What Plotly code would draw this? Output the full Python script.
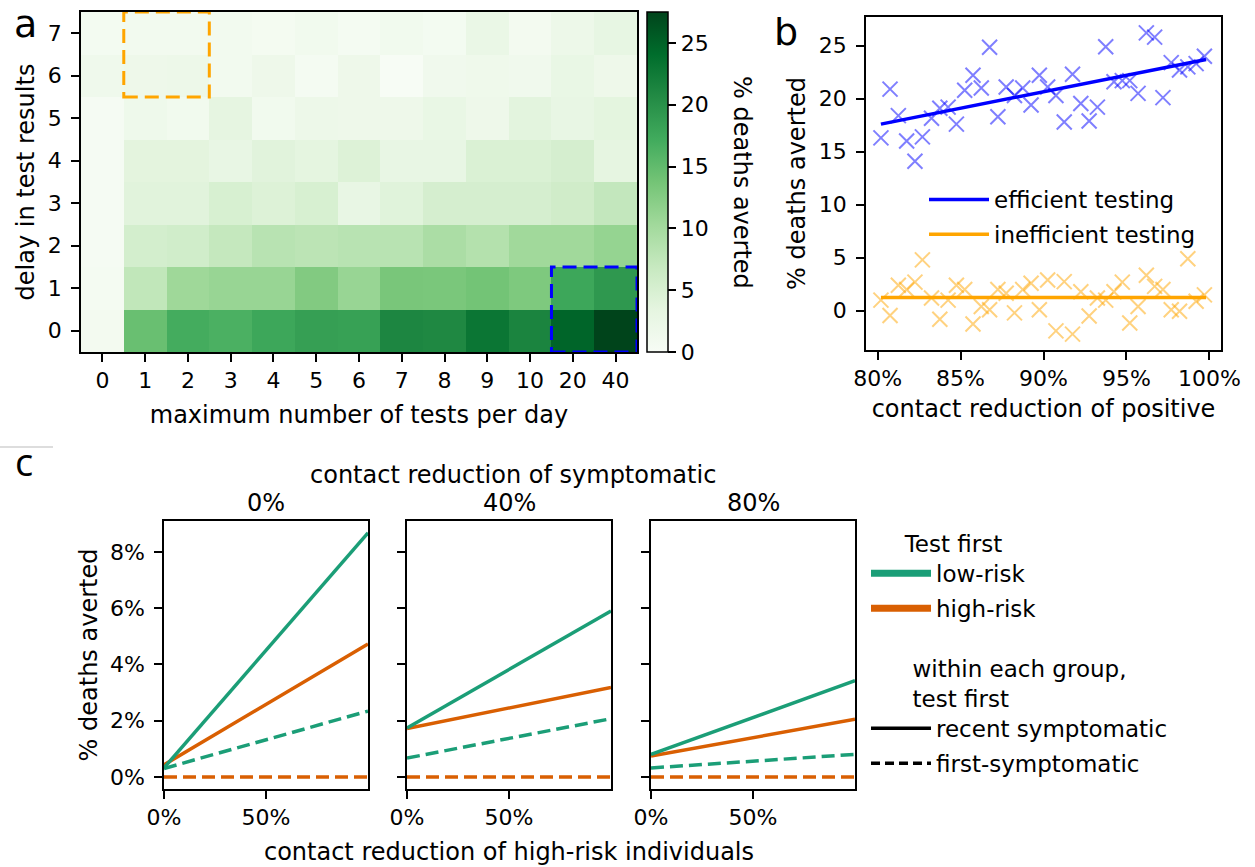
import plotly.graph_objects as go

W, H = 1255, 867
OFF = 0  # body margin removed in the page (see post_script)
FONT = "DejaVu Sans"

# ---------------- panel a data ----------------
tests_labels = ["0", "1", "2", "3", "4", "5", "6", "7", "8", "9", "10", "20", "40"]
delay_labels = ["0", "1", "2", "3", "4", "5", "6", "7"]
deaths_averted_grid = [
    [0.8, 14.5, 17.0, 16.5, 17.6, 18.5, 18.3, 21.2, 21.0, 23.0, 21.4, 24.7, 27.5],
    [0.5, 7.4, 10.5, 11.0, 11.0, 12.7, 11.0, 13.4, 13.3, 13.8, 13.0, 17.6, 19.2],
    [0.4, 5.5, 5.8, 7.1, 8.2, 7.9, 8.2, 8.2, 9.4, 8.6, 10.3, 10.3, 11.2],
    [0.4, 3.9, 3.9, 5.0, 4.4, 5.0, 2.8, 4.0, 5.3, 5.3, 5.3, 5.9, 7.2],
    [0.3, 3.6, 3.6, 2.8, 3.9, 3.4, 4.4, 2.8, 2.8, 4.7, 4.7, 5.3, 3.3],
    [0.3, 1.7, 1.2, 3.2, 1.2, 2.0, 1.8, 1.8, 2.7, 1.8, 3.7, 2.8, 3.5],
    [1.5, 1.8, 2.0, 1.0, 1.8, 0.5, 1.8, 0.0, 1.3, 1.6, 1.3, 2.6, 1.8],
    [0.7, 1.0, 1.0, 1.0, 0.6, 1.2, 0.5, 1.2, 0.7, 2.4, 0.8, 1.9, 3.0],
]
colorbar_ticks = [0, 5, 10, 15, 20, 25]
# highlighted regions (column / row index ranges)
inefficient_box = dict(cols=(1, 2), rows=(6, 7))
efficient_box = dict(cols=(11, 12), rows=(0, 1))

# ---------------- panel b data ----------------
contact_reduction_pos = [80.2, 80.75, 81.25, 81.75, 82.25, 82.7, 83.25, 83.75, 84.25, 84.75,
                         85.25, 85.75, 86.25, 86.75, 87.25, 87.75, 88.25, 88.75, 89.25, 89.75,
                         90.25, 90.75, 91.25, 91.75, 92.25, 92.75, 93.25, 93.75, 94.25, 94.75,
                         95.2, 95.7, 96.2, 96.7, 97.2, 97.7, 98.2, 98.7, 99.2, 99.7]
efficient_vals = [16.3, 20.9, 18.4, 16.0, 14.1, 16.4, 18.15, 19.1, 19.2, 17.6,
                  20.8, 22.2, 21.0, 24.85, 18.3, 21.1, 20.3, 21.0, 19.4, 22.2,
                  21.1, 20.3, 17.8, 22.3, 19.55, 17.9, 19.2, 24.9, 21.6, 21.7,
                  21.7, 20.5, 26.2, 25.8, 20.1, 23.4, 22.7, 23.0, 23.3, 24.0]
inefficient_vals = [1.0, -0.45, 2.4, 2.0, 2.7, 4.8, 1.2, -0.8, 1.0, 2.4,
                    2.0, -1.25, 0.4, 0.1, 2.0, 1.65, -0.2, 2.0, 2.6, 0.1,
                    2.9, -1.9, 2.75, -2.2, 1.8, -0.5, 1.2, 1.0, 1.8, 2.7,
                    -1.15, 0.4, 3.35, 2.3, 2.0, 0.1, -0.05, 4.9, 0.9, 1.5]
fit_x = [80.2, 99.8]
efficient_fit = [17.6, 23.7]
inefficient_fit = [1.25, 1.25]
b_xticks = [80, 85, 90, 95, 100]
b_xticklabels = ["80%", "85%", "90%", "95%", "100%"]
b_yticks = [0, 5, 10, 15, 20, 25]

# ---------------- panel c data ----------------
symptomatic_labels = ["0%", "40%", "80%"]
highrisk_x = [0.0, 1.0]
lowrisk_recent = [[0.0032, 0.0868], [0.0174, 0.0590], [0.0080, 0.0342]]
highrisk_recent = [[0.0043, 0.0473], [0.0172, 0.0318], [0.0074, 0.0205]]
lowrisk_first = [[0.0030, 0.0234], [0.0067, 0.0207], [0.0032, 0.0080]]
highrisk_first = [[0.0, 0.0], [0.0, 0.0], [0.0, 0.0]]
c_xticks = [0, 0.5]
c_yticks = [0, 0.02, 0.04, 0.06, 0.08]

GREEN = "#1b9e77"
ORANGE = "#d95f02"

greens = [[0.0, "#f7fcf5"], [0.125, "#e5f5e0"], [0.25, "#c7e9c0"], [0.375, "#a1d99b"],
          [0.5, "#74c476"], [0.625, "#41ab5d"], [0.75, "#238b45"], [0.875, "#006d2c"],
          [1.0, "#00441b"]]

TICK = 22
TITLE = 24


def fx(x):
    return (x - OFF) / W


def fy(y):
    return 1 - (y - OFF) / H


def px_x(a, b):
    return [fx(a), fx(b)]


def px_y(top, bottom):
    return [fy(bottom), fy(top)]


fig = go.Figure()

# ---- panel a heatmap ----
fig.add_trace(go.Heatmap(
    z=deaths_averted_grid,
    x=list(range(len(tests_labels))),
    y=list(range(len(delay_labels))),
    colorscale=greens, zmin=0, zmax=27.5,
    xaxis="x", yaxis="y", showscale=True,
    colorbar=dict(
        x=fx(647), xanchor="left", xpad=0,
        y=fy(352), yanchor="bottom", ypad=0,
        len=340 / H, lenmode="fraction", thickness=21,
        outlinewidth=1.5, outlinecolor="black",
        tickvals=colorbar_ticks, ticks="outside", ticklen=8,
        tickwidth=1.5, tickcolor="black", tickprefix="\u2009\u2009\u2009",
        tickfont=dict(family=FONT, size=TICK, color="black"),
    ),
    hoverinfo="skip",
))

# ---- panel b ----
fig.add_trace(go.Scatter(
    x=contact_reduction_pos, y=efficient_vals, mode="markers",
    marker=dict(symbol="x-thin", size=15, line=dict(width=2, color="rgba(0,0,255,0.5)")),
    xaxis="x2", yaxis="y2", showlegend=False))
fig.add_trace(go.Scatter(
    x=contact_reduction_pos, y=inefficient_vals, mode="markers",
    marker=dict(symbol="x-thin", size=15, line=dict(width=2, color="rgba(255,165,0,0.5)")),
    xaxis="x2", yaxis="y2", showlegend=False))
fig.add_trace(go.Scatter(
    x=fit_x, y=efficient_fit, mode="lines", line=dict(color="blue", width=3.5),
    name="efficient testing", xaxis="x2", yaxis="y2", legend="legend", legendgroup="e"))
fig.add_trace(go.Scatter(
    x=fit_x, y=inefficient_fit, mode="lines", line=dict(color="orange", width=3.5),
    name="inefficient testing", xaxis="x2", yaxis="y2", legend="legend", legendgroup="i"))

# ---- panel c ----
DASH = "13px,6px"
for i in range(3):
    xa = "x%d" % (i + 3)
    ya = "y%d" % (i + 3)
    for vals, col, dash in [(highrisk_first, ORANGE, DASH), (lowrisk_first, GREEN, DASH),
                            (highrisk_recent, ORANGE, "solid"), (lowrisk_recent, GREEN, "solid")]:
        fig.add_trace(go.Scatter(
            x=highrisk_x, y=vals[i], mode="lines",
            line=dict(color=col, width=3.5, dash=dash),
            xaxis=xa, yaxis=ya, showlegend=False))

# legend-only entries for panel c
for name, col, dash, lg in [("low-risk", GREEN, "solid", "legend2"),
                            ("high-risk", ORANGE, "solid", "legend2"),
                            ("recent symptomatic", "black", "solid", "legend3"),
                            ("first-symptomatic", "black", "9px,5px", "legend3")]:
    fig.add_trace(go.Scatter(
        x=[None], y=[None], mode="lines", name=name,
        line=dict(color=col, width=7 if lg == "legend2" else 3.5, dash=dash),
        xaxis="x3", yaxis="y3", legend=lg, legendgroup=name))


def ax(**kw):
    d = dict(showline=True, mirror=True, linecolor="black", linewidth=1.5,
             ticks="outside", ticklen=8, tickwidth=1.5, tickcolor="black",
             showgrid=False, zeroline=False, automargin=False,
             tickfont=dict(family=FONT, size=TICK, color="black"))
    d.update(kw)
    return d


tfont = dict(family=FONT, size=TITLE, color="black")
lfont = dict(family=FONT, size=23, color="black")

layout = dict(
    width=W, height=H, margin=dict(l=0, r=0, t=0, b=0, autoexpand=False),
    paper_bgcolor="white", plot_bgcolor="white",
    font=dict(family=FONT, color="black"),
    xaxis=ax(domain=px_x(81, 637), range=[-0.5, len(tests_labels) - 0.5],
             tickvals=list(range(len(tests_labels))), ticktext=tests_labels, anchor="y",
             title=dict(text="maximum number of tests per day", font=tfont, standoff=14)),
    yaxis=ax(domain=px_y(12, 352), range=[-0.5, len(delay_labels) - 0.5],
             tickvals=list(range(len(delay_labels))), ticktext=delay_labels, anchor="x",
             ticklabelstandoff=5,
             title=dict(text="delay in test results", font=tfont, standoff=6)),
    xaxis2=ax(domain=px_x(866, 1221), range=[79.3, 100.7], anchor="y2",
              tickvals=b_xticks, ticktext=b_xticklabels,
              title=dict(text="contact reduction of positive", font=tfont, standoff=10)),
    yaxis2=ax(domain=px_y(17, 350), range=[-3.7, 27.7], anchor="x2",
              tickvals=b_yticks, ticklabelstandoff=5,
              title=dict(text="% deaths averted", font=tfont, standoff=6)),
    legend=dict(x=fx(924), y=fy(178), xanchor="left", yanchor="top",
                bgcolor="rgba(0,0,0,0)", font=lfont, itemwidth=60, tracegroupgap=2),
    legend2=dict(x=fx(866), y=fy(522), xanchor="left", yanchor="top",
                 bgcolor="rgba(0,0,0,0)", font=lfont, itemwidth=60,
                 title=dict(text="Test first", side="top center", font=lfont),
                 tracegroupgap=2),
    legend3=dict(x=fx(866), y=fy(647), xanchor="left", yanchor="top",
                 bgcolor="rgba(0,0,0,0)", font=lfont, itemwidth=60,
                 title=dict(text="within each group,<br>test first", side="top center",
                            font=lfont),
                 tracegroupgap=2),
)

cx = [(164, 368), (407, 611), (651, 855)]
for i, (a, b) in enumerate(cx):
    n = i + 3
    layout["xaxis%d" % n] = ax(domain=px_x(a, b), range=[0, 1], anchor="y%d" % n,
                               tickvals=c_xticks, tickformat=".0%")
    layout["yaxis%d" % n] = ax(domain=px_y(521, 789), range=[-0.0043, 0.091], anchor="x%d" % n,
                               tickvals=c_yticks, tickformat=".0%", ticklabelstandoff=5,
                               showticklabels=(i == 0))
layout["yaxis3"]["title"] = dict(text="% deaths averted", font=tfont, standoff=6)
layout["xaxis4"]["title"] = dict(text="contact reduction of high-risk individuals",
                                 font=tfont, standoff=14)

fig.update_layout(**layout)

# highlight boxes on heatmap
for box, col in [(inefficient_box, "orange"), (efficient_box, "blue")]:
    fig.add_shape(type="rect", xref="x", yref="y",
                  x0=box["cols"][0] - 0.5, x1=box["cols"][1] + 0.5,
                  y0=box["rows"][0] - 0.5, y1=box["rows"][1] + 0.5,
                  line=dict(color=col, width=3, dash="14px,7px"))

# faint separator line top-left of panel c
fig.add_shape(type="line", xref="paper", yref="paper", x0=0, x1=fx(53),
              y0=fy(447), y1=fy(447), line=dict(color="#bbbbbb", width=1))

ann = [
    dict(text="a", x=fx(25), y=fy(24), font=dict(family=FONT, size=38, color="black")),
    dict(text="b", x=fx(786), y=fy(32), font=dict(family=FONT, size=38, color="black")),
    dict(text="c", x=fx(24), y=fy(461), font=dict(family="Open Sans", size=38, color="black")),
    dict(text="% deaths averted", x=fx(742), y=fy(182), textangle=90, font=tfont),
    dict(text="contact reduction of symptomatic", x=fx(513), y=fy(475), font=tfont),
]
for lab, (a, b) in zip(symptomatic_labels, cx):
    ann.append(dict(text=lab, x=fx((a + b) / 2), y=fy(503), font=tfont))
for a_ in ann:
    fig.add_annotation(xref="paper", yref="paper", showarrow=False,
                       xanchor="center", yanchor="middle", **a_)

fig.write_html(
    "out.html",
    config={"displayModeBar": False},
    post_script="document.body.style.margin='0px';document.body.style.overflow='hidden';",
)
